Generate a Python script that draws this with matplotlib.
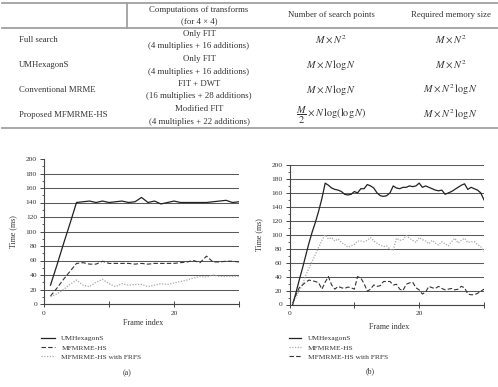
import matplotlib.pyplot as plt
import numpy as np
from matplotlib.lines import Line2D

plt.rcParams["font.family"] = ["Liberation Serif", "DejaVu Serif"]
plt.rcParams["mathtext.fontset"] = "stix"

W, H = 498, 387

# comparison table
row_labels = ["Full search", "UMHexagonS", "Conventional MRME", "Proposed MFMRME-HS"]
transform_names = ["Only FIT", "Only FIT", "FIT + DWT", "Modified FIT"]
transform_ops = [
    "(4 multiplies + 16 additions)",
    "(4 multiplies + 16 additions)",
    "(16 multiplies + 28 additions)",
    "(4 multiplies + 22 additions)",
]
search_points = [
    r"$M \times N^2$",
    r"$M \times N\,\log N$",
    r"$M \times N\,\log N$",
    r"$\dfrac{M}{2} \times N\,\log(\log N)$",
]
memory_sizes = [
    r"$M \times N^2$",
    r"$M \times N^2$",
    r"$M \times N^2\,\log N$",
    r"$M \times N^2\,\log N$",
]

# panel (a): one value per frame
frames_a = np.arange(1, 31)
umhex_a = [26, 54, 83, 111, 140, 141, 142, 140, 142, 140, 141, 142, 140, 141, 147,
           140, 142, 138, 140, 142, 140, 140, 140, 140, 140, 141, 142, 143, 140, 141]
mfmrme_a = [11, 22, 34, 45, 56, 57, 55, 55, 59, 56, 56, 56, 56, 55, 56,
            55, 56, 56, 56, 56, 57, 58, 60, 57, 66, 58, 58, 59, 59, 58]
frfs_a = [10, 14, 20, 27, 33, 26, 24, 30, 34, 28, 24, 28, 26, 27, 27,
          24, 26, 28, 27, 29, 31, 33, 36, 38, 37, 40, 38, 38, 38, 38]

# panel (b): two samples per frame
frames_b = np.arange(1, 61) / 2
umhex_b = [0, 17, 35, 52, 70, 88, 104, 118, 134, 152, 174, 171, 167, 165, 164,
           162, 158, 157, 158, 162, 160, 166, 166, 172, 170, 167, 160, 156, 155, 156,
           160, 170, 167, 166, 168, 168, 170, 169, 170, 174, 168, 170, 168, 166, 164,
           163, 164, 158, 160, 162, 165, 168, 171, 173, 165, 168, 166, 164, 160, 150]
mfmrme_b = [2, 10, 20, 28, 42, 52, 62, 72, 82, 92, 100, 94, 96, 91, 94,
            89, 86, 82, 84, 86, 91, 91, 90, 92, 96, 91, 88, 85, 83, 84,
            79, 78, 95, 92, 93, 99, 95, 92, 89, 96, 93, 91, 87, 92, 88,
            85, 90, 87, 84, 90, 95, 88, 92, 95, 89, 90, 90, 86, 83, 76]
frfs_b = [2, 14, 24, 28, 32, 35, 34, 33, 31, 22, 32, 40, 28, 22, 26,
          24, 23, 25, 24, 22, 40, 38, 30, 19, 22, 28, 26, 27, 33, 33,
          33, 28, 29, 22, 20, 29, 31, 32, 24, 21, 15, 18, 26, 24, 23,
          26, 23, 21, 22, 23, 21, 22, 26, 24, 15, 14, 14, 16, 19, 22]

TEXT = "#333333"
SOLID = dict(color="#222222", lw=0.9, ls="-")
DASHED = dict(color="#333333", lw=0.8, ls=(0, (4, 2)))
DOTTED = dict(color="#a8a8a8", lw=0.9, ls=(0, (1, 1.2)))


def fx(px):
    return px / W


def fy(py):
    return 1 - py / H


fig = plt.figure(figsize=(W / 100, H / 100), dpi=100)

# table rules
rule = dict(color="#a0a0a0", lw=1.3, transform=fig.transFigure)
for py in (3, 28, 128):
    fig.add_artist(Line2D([fx(2), fx(498)], [fy(py), fy(py)], **rule))
fig.add_artist(Line2D([fx(127), fx(127)], [fy(3), fy(28)], **rule))

tkw = dict(fontsize=6.3, color=TEXT, va="center")
mkw = dict(fontsize=7.4, color=TEXT, va="center", ha="center")
fig.text(fx(199), fy(9.5), "Computations of transforms", ha="center", **tkw)
fig.text(fx(199), fy(21), "(for 4 \u00d7 4)", ha="center", **tkw)
fig.text(fx(331), fy(15), "Number of search points", ha="center", **tkw)
fig.text(fx(451), fy(15), "Required memory size", ha="center", **tkw)
for i in range(len(row_labels)):
    yc = 40 + 25 * i
    fig.text(fx(19), fy(yc), row_labels[i], ha="left", **tkw)
    fig.text(fx(199), fy(yc - 6), transform_names[i], ha="center", **tkw)
    fig.text(fx(199), fy(yc + 6.5), transform_ops[i], ha="center", **tkw)
    fig.text(fx(331), fy(yc), search_points[i], **mkw)
    fig.text(fx(451), fy(yc), memory_sizes[i], **mkw)


def draw_panel(rect, x, series, styles, labels, top_grid, leg_xy, leg_handle, caption, cap_xy, xlab_y):
    ax = fig.add_axes(rect)
    for y, st, lab in zip(series, styles, labels):
        ax.plot(x, y, label=lab, **st)
    ax.set_xlim(0, 30)
    ax.set_ylim(0, 200)
    ax.set_xticks([0, 10, 20, 30], ["0", "", "20", ""])
    ax.set_yticks(np.arange(0, 201, 20))
    ax.set_yticks(np.arange(10, 200, 20), minor=True)
    ax.yaxis.grid(True, color="#5a5a5a", lw=0.75)
    if not top_grid:
        ax.get_ygridlines()[-1].set_visible(False)
    ax.set_axisbelow(True)
    for side in ("top", "right"):
        ax.spines[side].set_visible(False)
    for side in ("left", "bottom"):
        ax.spines[side].set_color("#444444")
        ax.spines[side].set_linewidth(0.8)
    ax.tick_params(axis="y", which="major", length=3, width=0.7, color="#444444",
                   labelsize=5.4, labelcolor=TEXT, pad=2)
    ax.tick_params(axis="y", which="minor", length=1.5, width=0.6, color="#444444")
    ax.tick_params(axis="x", direction="inout", length=4, width=0.7, color="#444444",
                   labelsize=5.4, labelcolor=TEXT, pad=3)
    ax.set_ylabel("Time (ms)", fontsize=5.8, color=TEXT)
    ax.yaxis.set_label_coords(-0.135, 0.5)
    ax.set_xlabel("Frame index", fontsize=5.8, color=TEXT)
    ax.xaxis.set_label_coords(0.51, xlab_y)
    ax.legend(loc="upper left", bbox_to_anchor=leg_xy, bbox_transform=fig.transFigure,
              frameon=False, fontsize=5.4, handlelength=leg_handle, handletextpad=0.9,
              labelspacing=0.4, borderpad=0, borderaxespad=0, labelcolor=TEXT)
    fig.text(cap_xy[0], cap_xy[1], caption, fontsize=5.8, color=TEXT, ha="center", va="center")
    return ax


draw_panel([fx(44), fy(304), fx(239) - fx(44), fy(159) - fy(304)], frames_a,
           [umhex_a, mfmrme_a, frfs_a], [SOLID, DASHED, DOTTED],
           ["UMHexagonS", "MFMRME-HS", "MFMRME-HS with FRFS"], False,
           (fx(41), fy(335)), 1.8, "(a)", (fx(127), fy(373)), -0.105)

draw_panel([fx(289.5), fy(304.5), fx(484) - fx(289.5), fy(165) - fy(304.5)], frames_b,
           [umhex_b, mfmrme_b, frfs_b], [SOLID, DOTTED, DASHED],
           ["UMHexagonS", "MFMRME-HS", "MFMRME-HS with FRFS"], True,
           (fx(289), fy(335)), 1.6, "(b)", (fx(370), fy(371)), -0.135)

fig.savefig("out.png", dpi=100)
